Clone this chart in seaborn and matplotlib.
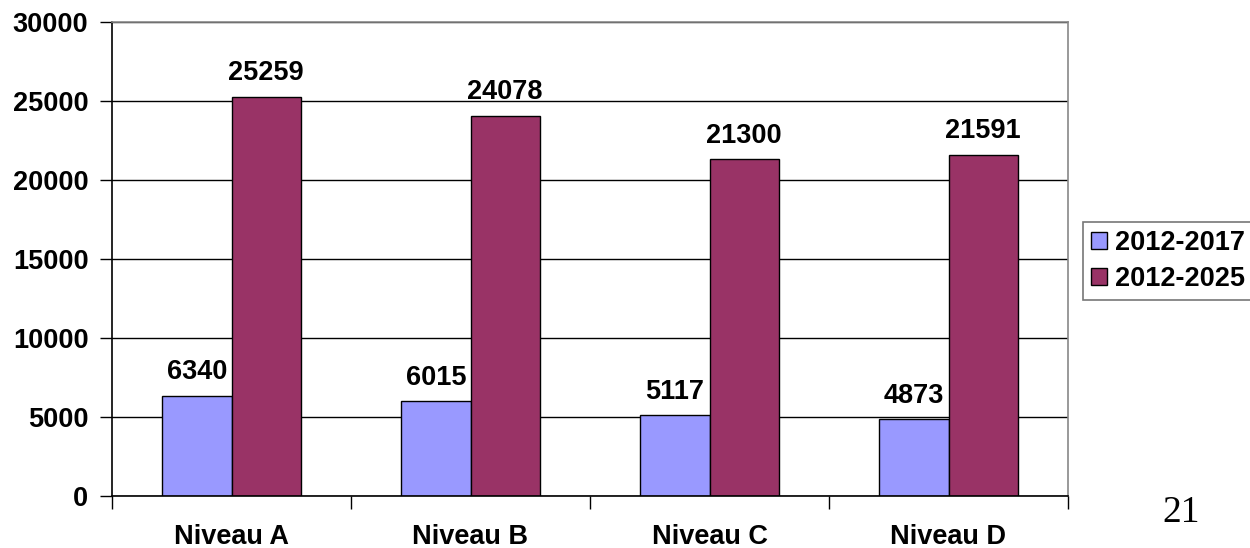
import numpy as np
import pandas as pd
import matplotlib
matplotlib.use("Agg")
import matplotlib.pyplot as plt
import seaborn as sns

# --- Data ---
niveaux = ["Niveau A", "Niveau B", "Niveau C", "Niveau D"]
periodes = ["2012-2017", "2012-2025"]
vals_2017 = [6340, 6015, 5117, 4873]
vals_2025 = [25259, 24078, 21300, 21591]
colors = ["#9999FF", "#993366"]

df = pd.DataFrame({
    "niveau": niveaux * 2,
    "periode": [periodes[0]] * 4 + [periodes[1]] * 4,
    "valeur": vals_2017 + vals_2025,
})

sns.set_style("white")
plt.rcParams["font.family"] = ["Liberation Sans", "DejaVu Sans"]
plt.rcParams["text.color"] = "black"
plt.rcParams["xtick.color"] = "black"
plt.rcParams["ytick.color"] = "black"

FS = 19.5

fig = plt.figure(figsize=(12.5, 5.48), dpi=100)
ax = fig.add_axes([0.0896, 0.0949, 0.7648, 0.865])

sns.barplot(data=df, x="niveau", y="valeur", hue="periode", palette=colors,
            width=0.58, edgecolor="black", linewidth=1, saturation=1,
            ax=ax, legend=True)

# value labels
for cont in ax.containers:
    ax.bar_label(cont, fmt="%d", padding=7.5, fontsize=FS, fontweight="bold", color="black")

# axes
ax.set_ylim(0, 30000)
ax.set_xlim(-0.5, 3.5)
ax.set_yticks(np.arange(0, 30001, 5000))
ax.set_yticklabels([str(v) for v in range(0, 30001, 5000)], fontsize=FS, fontweight="bold")
ax.yaxis.grid(True, color="black", linewidth=1)
ax.set_axisbelow(True)
ax.tick_params(axis="y", length=9, width=1, color="black", pad=8, left=True)

# category boundaries as major ticks, labels as minor
ax.set_xticks(np.arange(-0.5, 4.0, 1.0))
ax.set_xticklabels([])
ax.tick_params(axis="x", which="major", length=9, width=1, color="black", bottom=True)
ax.set_xticks(np.arange(4), minor=True)
ax.set_xticklabels(niveaux, minor=True, fontsize=FS, fontweight="bold")
ax.tick_params(axis="x", which="minor", length=0, pad=20)

ax.set_xlabel("")
ax.set_ylabel("")

for side in ["left", "bottom"]:
    ax.spines[side].set_color("black")
    ax.spines[side].set_linewidth(1.2)
for side in ["top", "right"]:
    ax.spines[side].set_visible(True)
    ax.spines[side].set_color("#888888")
    ax.spines[side].set_linewidth(1.2)

# legend
handles, labels = ax.get_legend_handles_labels()
ax.legend_.remove()
leg = fig.legend(handles, labels, loc="center left", bbox_to_anchor=(0.8664, 0.5237),
                 prop={"size": FS, "weight": "bold"}, frameon=True, fancybox=False,
                 edgecolor="#555555", handlelength=0.6, handleheight=0.6,
                 handletextpad=0.3, borderpad=0.3, labelspacing=0.35, borderaxespad=0)
leg.get_frame().set_linewidth(1.2)

# slide number
fig.text(0.945, 0.064, "21", fontsize=27, family=["Liberation Serif", "DejaVu Serif"],
         ha="center", va="center")

fig.savefig("out.png", dpi=100)
